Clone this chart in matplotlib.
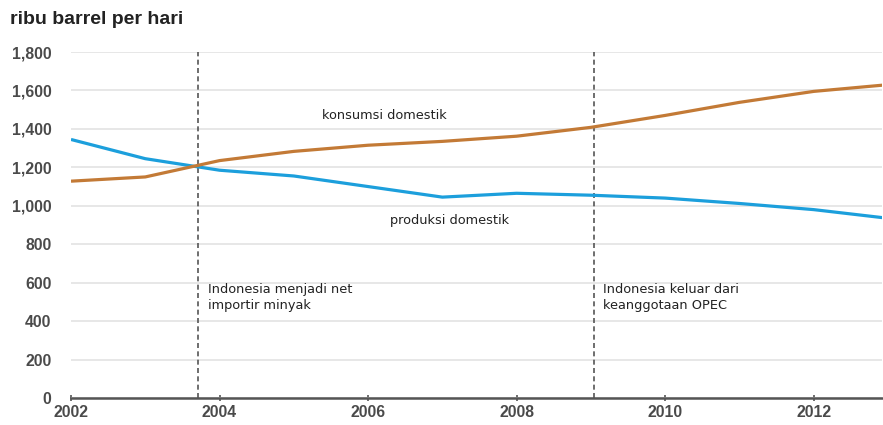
import matplotlib.pyplot as plt

plt.rcParams['font.family'] = ['Liberation Sans', 'DejaVu Sans']

years = [2002, 2003, 2004, 2005, 2006, 2007, 2008, 2009, 2010, 2011, 2012, 2013]
produksi = [1345, 1245, 1185, 1155, 1100, 1045, 1065, 1055, 1040, 1012, 980, 935]
konsumsi = [1128, 1150, 1235, 1283, 1315, 1335, 1362, 1408, 1470, 1538, 1595, 1630]

event_x = [2003.71, 2009.04]
event_text = ["Indonesia menjadi net\nimportir minyak", "Indonesia keluar dari\nkeanggotaan OPEC"]

xticks = [2002, 2004, 2006, 2008, 2010, 2012]
yticks = [0, 200, 400, 600, 800, 1000, 1200, 1400, 1600, 1800]

fig = plt.figure(figsize=(8.83, 4.25), dpi=100)
ax = fig.add_axes([71 / 883, 27 / 425, (882 - 71) / 883, (398 - 52) / 425])

ax.plot(years, produksi, color='#1c9fdc', lw=2.3, solid_capstyle='butt', zorder=3)
ax.plot(years, konsumsi, color='#c37a36', lw=2.3, solid_capstyle='butt', zorder=3)

note_font = dict(family='DejaVu Sans', fontsize=9.3, color='#222222')
for x, t in zip(event_x, event_text):
    ax.axvline(x, color='#555555', lw=1.2, ls=(0, (3, 2)), zorder=2)
    ax.text(x + 0.13, 600, t, va='top', ha='left', linespacing=1.3, **note_font)

ax.text(2005.38, 1468, "konsumsi domestik", va='center', ha='left', **note_font)
ax.text(2006.3, 925, "produksi domestik", va='center', ha='left', **note_font)

ax.set_xlim(2002, 2012.92)
ax.set_ylim(0, 1800)
ax.set_xticks(xticks)
ax.set_yticks(yticks)
ax.set_yticklabels([f"{v:,}" for v in yticks])
ax.grid(axis='y', color='#e3e3e3', lw=1.2, zorder=0)
for s in ['top', 'right', 'left']:
    ax.spines[s].set_visible(False)
ax.spines['bottom'].set_color('#555555')
ax.spines['bottom'].set_linewidth(1.8)
ax.tick_params(axis='y', length=0, pad=14, labelsize=11.3, labelcolor='#4a4a4a')
ax.tick_params(axis='x', length=4, width=1.2, color='#555555', direction='inout', pad=3,
               labelsize=11.3, labelcolor='#4a4a4a')
for lbl in ax.get_xticklabels() + ax.get_yticklabels():
    lbl.set_fontweight('bold')

fig.text(10 / 883, 1 - 20 / 425, "ribu barrel per hari", fontsize=14, fontweight='bold',
         color='#222222', va='center', ha='left')

fig.savefig('out.png', dpi=100)
